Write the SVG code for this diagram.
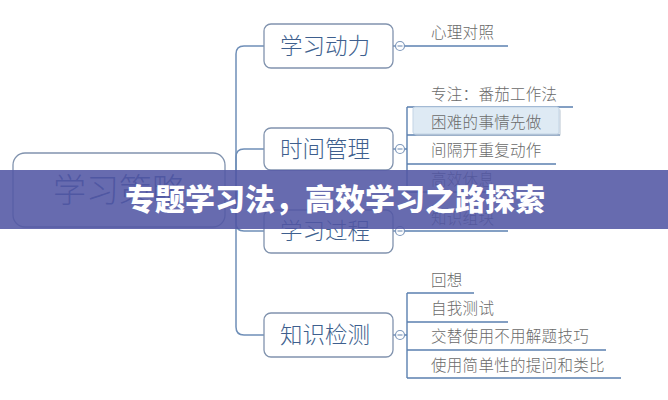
<svg xmlns="http://www.w3.org/2000/svg" width="668" height="400" viewBox="0 0 668 400">
<style>
.box{fill:#fff;stroke:#8193ae;stroke-width:1.3}
.con{fill:none;stroke:#6f8fb8;stroke-width:1.5}
.ul{fill:none;stroke:#5b80b0;stroke-width:1.4}
.tog{fill:#fff;stroke:#7e98bb;stroke-width:1.2}
.br{font-family:"Noto Sans CJK SC","Noto Sans",sans-serif;font-size:22.5px;font-weight:300;fill:#3e5f8e}
.lf{font-family:"Noto Sans CJK SC","Noto Sans",sans-serif;font-size:15.5px;font-weight:300;letter-spacing:0.3px;fill:#6a6a6a}
.rt{font-family:"Noto Sans CJK SC","Noto Sans",sans-serif;font-size:33px;font-weight:300;fill:#3d5890}
.tt{font-family:"Noto Sans CJK SC","Noto Sans",sans-serif;font-size:30px;font-weight:900;fill:#fff}
</style>
<rect width="668" height="400" fill="#fff"/>
<g id="connectors">
<path class="con" d="M225,190 H236 V54 Q236,46 244,46 H264"/>
<path class="con" d="M236,190 V157 Q236,149 244,149 H264"/>
<path class="con" d="M236,190 V223 Q236,231 244,231 H264"/>
<path class="con" d="M236,190 V327 Q236,335 244,335 H264"/>
<path class="con" d="M393,46 H395.5 M393,149 H395.5 M393,231 H395.5 M393,335 H395.5"/>
<path class="ul" d="M404.5,46 H508"/>
<path class="ul" d="M404.5,149 H407 M407,107 V192 M407,107 H573 M407,135 H560 M407,164 H556 M407,192 H508"/>
<path class="ul" d="M404.5,231 H508"/>
<path class="ul" d="M404.5,335 H407 M407,293 V378 M407,293 H474 M407,322 H508 M407,350 H606 M407,378 H621"/>
</g>
<g id="root">
<rect class="box" x="13" y="153" width="212" height="74" rx="12"/>
<text class="rt" x="119" y="202" text-anchor="middle">学习策略</text>
</g>
<g id="n-dongli">
<rect class="box" x="264" y="24" width="129" height="44" rx="7"/>
<text class="br" x="280" y="54">学习动力</text>
<circle class="tog" cx="400" cy="46" r="4.5"/><path class="tog" d="M397.5,46 H402.5"/>
</g>
<g id="n-shijian">
<rect class="box" x="264" y="128" width="129" height="42" rx="7"/>
<text class="br" x="280" y="157">时间管理</text>
<circle class="tog" cx="400" cy="149" r="4.5"/><path class="tog" d="M397.5,149 H402.5"/>
</g>
<g id="n-guocheng">
<rect class="box" x="264" y="210" width="129" height="43" rx="7"/>
<text class="br" x="280" y="239">学习过程</text>
<circle class="tog" cx="400" cy="231" r="4.5"/><path class="tog" d="M397.5,231 H402.5"/>
</g>
<g id="n-jiance">
<rect class="box" x="264" y="313" width="129" height="44" rx="7"/>
<text class="br" x="280" y="343">知识检测</text>
<circle class="tog" cx="400" cy="335" r="4.5"/><path class="tog" d="M397.5,335 H402.5"/>
</g>
<g id="leaves">
<text class="lf" x="431" y="38">心理对照</text>
<text class="lf" x="431" y="100">专注：番茄工作法</text>
<rect x="415" y="109" width="146" height="27" rx="2" fill="#b8c4d0" opacity="0.5"/>
<rect x="413" y="107" width="146" height="27" rx="2" fill="#deeaf4" stroke="#c3d4e5" stroke-width="1"/>
<text class="lf" x="431" y="128">困难的事情先做</text>
<text class="lf" x="431" y="156">间隔开重复动作</text>
<text class="lf" x="431" y="185">高效休息</text>
<text class="lf" x="431" y="224">知识组块</text>
<text class="lf" x="431" y="286">回想</text>
<text class="lf" x="431" y="314">自我测试</text>
<text class="lf" x="431" y="342">交替使用不用解题技巧</text>
<text class="lf" x="431" y="371">使用简单性的提问和类比</text>
</g>
<g id="banner">
<rect x="0" y="170" width="668" height="59" fill="rgb(82,86,164)" fill-opacity="0.88"/>
<text class="tt" x="125" y="210">专题学习法，高效学习之路探索</text>
</g>
</svg>
